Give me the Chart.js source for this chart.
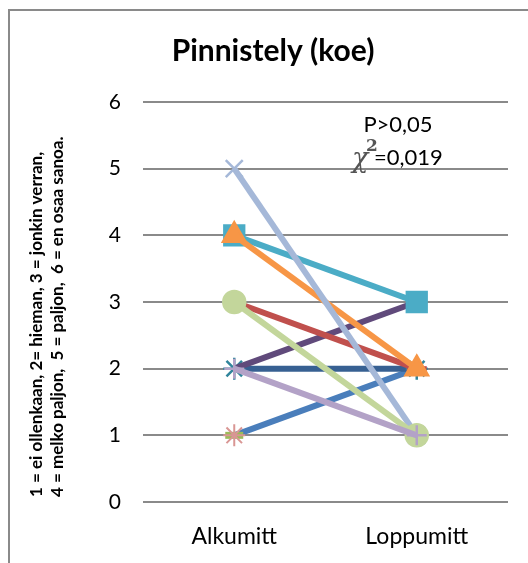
<!DOCTYPE html>
<html>
<head>
<meta charset="utf-8">
<script src="https://cdn.jsdelivr.net/npm/chart.js@4/dist/chart.umd.min.js"></script>
<style>
  html, body { margin: 0; padding: 0; background: #fff; }
  canvas { display: block; }
</style>
</head>
<body>
<canvas id="c" width="528" height="563"></canvas>
<script>
// Measurement points
const categories = ['Alkumitt', 'Loppumitt'];

// Each respondent's answer at the start and at the end (scale 1-6)
const vastaaja1 = [1, null];
const vastaaja2 = [1, null];
const vastaaja3 = [2, 1];
const vastaaja4 = [3, 1];
const vastaaja5 = [5, 1];
const vastaaja6 = [4, 2];
const vastaaja7 = [4, 3];
const vastaaja8 = [3, 2];
const vastaaja9 = [2, 3];
const vastaaja10 = [2, 2];
const vastaaja11 = [1, 2];

const yTicks = [0, 1, 2, 3, 4, 5, 6];

const chartTitle = 'Pinnistely (koe)';
const axisTitleLines = [
  '1 = ei ollenkaan, 2= hieman, 3 = jonkin verran,',
  '4 = melko paljon,  5 = paljon,  6 = en osaa sanoa.'
];
const statLine1 = 'P>0,05';
const statValue = '=0,019';

function series(values, color, style, radius, pointColor, markerWidth) {
  return {
    data: values,
    borderColor: color,
    backgroundColor: pointColor || color,
    pointBackgroundColor: pointColor || color,
    pointBorderColor: pointColor || color,
    pointBorderWidth: markerWidth || 2.5,
    borderWidth: 6,
    pointStyle: style,
    pointRadius: radius,
    tension: 0
  };
}

// Listed top-most first
const datasets = [
  series(vastaaja1, '#D99694', 'star', 11, null, 2),
  series(vastaaja2, '#9BBB59', 'line', 9, null, 7),
  series(vastaaja3, '#B3A2C7', 'cross', 10),
  series(vastaaja4, '#C3D69B', 'circle', 11),
  series(vastaaja5, '#A5B8D8', 'crossRot', 12),
  series(vastaaja6, '#F79646', 'triangle', 13),
  series(vastaaja7, '#4BACC6', 'rect', 14),
  series(vastaaja8, '#C0504D', 'line', 10, null, 5),
  series(vastaaja9, '#604A7B', 'circle', 0),
  series(vastaaja10, '#376092', 'star', 11, '#31859C'),
  series(vastaaja11, '#4A7EBB', 'circle', 0)
].map((d, i) => Object.assign(d, { order: i }));

const decorations = {
  id: 'decorations',
  beforeDraw(chart) {
    const ctx = chart.ctx;
    ctx.save();
    ctx.fillStyle = '#fff';
    ctx.fillRect(0, 0, chart.width, chart.height);
    ctx.strokeStyle = '#8a8a8a';
    ctx.lineWidth = 2;
    ctx.beginPath();
    ctx.moveTo(9, chart.height);
    ctx.lineTo(9, 10);
    ctx.lineTo(chart.width, 10);
    ctx.stroke();
    ctx.restore();
  },
  afterDraw(chart) {
    const ctx = chart.ctx;
    ctx.save();
    ctx.fillStyle = '#000';

    // Title
    ctx.font = 'bold 30px Lato';
    ctx.textAlign = 'center';
    ctx.textBaseline = 'alphabetic';
    ctx.fillText(chartTitle, 273, 61);

    // Rotated axis title, two lines
    ctx.font = 'bold 17px Lato';
    ctx.textAlign = 'left';
    ctx.textBaseline = 'middle';
    ctx.save();
    ctx.translate(37, 497);
    ctx.rotate(-Math.PI / 2);
    ctx.fillText(axisTitleLines[0], 0, 0);
    ctx.restore();
    ctx.save();
    ctx.translate(58, 497);
    ctx.rotate(-Math.PI / 2);
    ctx.fillText(axisTitleLines[1], 0, 0);
    ctx.restore();

    // Test statistic
    ctx.font = '22px Lato';
    ctx.textAlign = 'center';
    ctx.textBaseline = 'alphabetic';
    ctx.fillText(statLine1, 398, 132);
    ctx.font = 'italic 27px "DejaVu Serif"';
    ctx.fillStyle = '#555';
    ctx.textAlign = 'left';
    ctx.fillText('\u03C7', 352, 167);
    ctx.font = 'bold 17px "DejaVu Serif"';
    ctx.fillText('2', 366, 151);
    ctx.fillStyle = '#000';
    ctx.font = '22px Lato';
    ctx.fillText(statValue, 374, 165);
    ctx.restore();
  }
};

new Chart(document.getElementById('c'), {
  type: 'line',
  data: { labels: categories, datasets },
  options: {
    responsive: false,
    animation: false,
    devicePixelRatio: 1,
    layout: { padding: { left: 0, top: 102, right: 20, bottom: 0 } },
    plugins: {
      legend: { display: false },
      title: { display: false },
      tooltip: { enabled: false }
    },
    scales: {
      x: {
        offset: true,
        grid: { display: false, drawTicks: false },
        border: { display: false },
        ticks: { color: '#000', font: { family: 'Lato', size: 23 }, padding: 21 },
        afterFit(scale) { scale.height = 61; }
      },
      y: {
        min: 0,
        max: 6,
        afterBuildTicks(scale) { scale.ticks = yTicks.map(v => ({ value: v })); },
        grid: { color: '#8a8a8a', lineWidth: 2, drawTicks: false },
        border: { display: false },
        ticks: { color: '#000', font: { family: 'Lato', size: 21 }, padding: 22 },
        afterFit(scale) { scale.width = 143; }
      }
    }
  },
  plugins: [decorations]
});
</script>
</body>
</html>
